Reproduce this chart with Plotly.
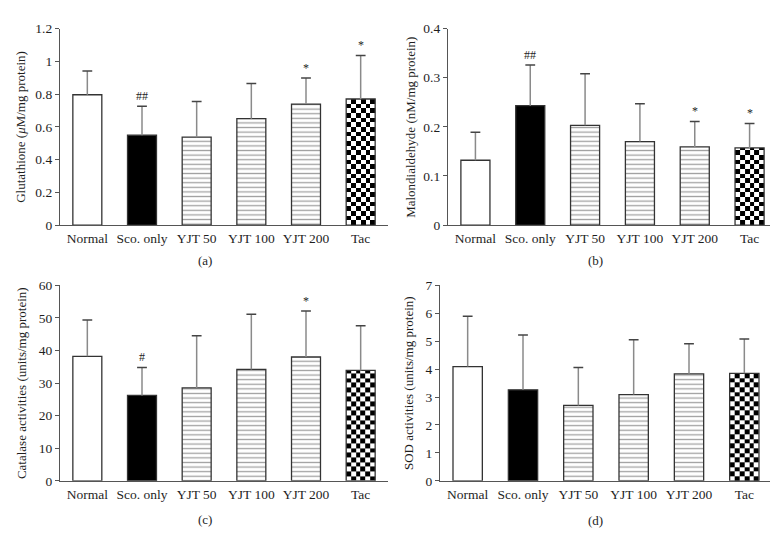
import numpy as np
import plotly.graph_objects as go

# ---------------- data ----------------
groups = ["Normal", "Sco. only", "YJT 50", "YJT 100", "YJT 200", "Tac"]

gsh_mean = [0.796, 0.549, 0.537, 0.650, 0.739, 0.770]
gsh_sd = [0.145, 0.176, 0.217, 0.215, 0.160, 0.266]
gsh_sig = ["", "##", "", "", "*", "*"]

mda_mean = [0.132, 0.243, 0.203, 0.170, 0.159, 0.157]
mda_sd = [0.057, 0.083, 0.105, 0.077, 0.052, 0.050]
mda_sig = ["", "##", "", "", "*", "*"]

cat_mean = [38.2, 26.2, 28.5, 34.2, 38.0, 33.9]
cat_sd = [11.2, 8.6, 16.0, 16.9, 14.1, 13.7]
cat_sig = ["", "#", "", "", "*", ""]

sod_mean = [4.09, 3.26, 2.70, 3.09, 3.83, 3.85]
sod_sd = [1.80, 1.96, 1.36, 1.96, 1.08, 1.23]
sod_sig = ["", "", "", "", "", ""]

y_titles = [
    "Glutathione (<i>μ</i>M/mg protein)",
    "Malondialdehyde (nM/mg protein)",
    "Catalase activities (units/mg protein)",
    "SOD activities (units/mg protein)",
]
captions = ["(a)", "(b)", "(c)", "(d)"]
y_max = [1.2, 0.4, 60, 7]
y_dtick = [0.2, 0.1, 10, 1]

# ---------------- styling ----------------
W, H = 778, 545
FONT = "Liberation Serif, Times New Roman, serif"
TXT = "#1e1e1e"
fills = ["white", "black", "white", "white", "white", "rgba(0,0,0,0)"]
shapes = ["", "", "-", "-", "-", ""]
bargap = 0.47
barw = 1 - bargap

# pixel boxes of each plot area: (x_left, x_right, y_top, y_bottom)
boxes = [
    (52, 380, 14, 216),
    (440, 769, 14, 216),
    (52, 380, 278, 479),
    (432, 764, 278, 479),
]
caption_pos = [(197, 252), (587, 252), (197, 519), (587, 520)]
ytitle_x = [13, 403, 13, 400]

panels = [
    (gsh_mean, gsh_sd, gsh_sig),
    (mda_mean, mda_sd, mda_sig),
    (cat_mean, cat_sd, cat_sig),
    (sod_mean, sod_sd, sod_sig),
]

fig = go.Figure()
idx = list(range(len(groups)))
annotations = []
layout_axes = {}

for p, (mean, sd, sig) in enumerate(panels):
    n = "" if p == 0 else str(p + 1)
    xa, ya = "x" + n, "y" + n
    xl, xr, yt, yb = boxes[p]

    # checkerboard fill for the Tac bar (heatmap under the bar outline)
    tac = len(groups) - 1
    cell_px = 4.8
    rowh = y_max[p] * cell_px / (yb - yt)
    ye = np.append(np.arange(0, mean[tac], rowh), mean[tac])
    if ye[-1] - ye[-2] < rowh * 0.2:
        ye = np.delete(ye, -2)
    ncol = 6
    xe = tac - barw / 2 + np.arange(ncol + 1) * barw / ncol
    z = [[(i + j) % 2 for j in range(ncol)] for i in range(len(ye) - 1)]
    fig.add_trace(go.Heatmap(
        x=xe, y=ye, z=z, zmin=0, zmax=1,
        colorscale=[[0, "white"], [1, "black"]],
        showscale=False, hoverinfo="skip", xaxis=xa, yaxis=ya,
    ))

    fig.add_trace(go.Bar(
        x=idx, y=mean, xaxis=xa, yaxis=ya,
        marker=dict(
            color=fills,
            line=dict(color="#333333", width=1.3),
            pattern=dict(shape=shapes, fgcolor="#8a8a8a", bgcolor="white",
                         size=4.6, solidity=0.28),
        ),
        error_y=dict(type="data", symmetric=False, array=sd,
                     arrayminus=[0] * len(sd), width=0,
                     thickness=1.5, color="#8a8a8a"),
        hoverinfo="skip",
    ))
    tops = [m + s for m, s in zip(mean, sd)]
    fig.add_trace(go.Scatter(
        x=idx, y=tops, mode="markers", xaxis=xa, yaxis=ya,
        marker=dict(symbol="line-ew", size=7,
                    line=dict(width=1.5, color="#444444")),
        hoverinfo="skip",
    ))

    for i, s in enumerate(sig):
        if s:
            annotations.append(dict(
                x=i, y=tops[i], xref=xa, yref=ya, text=s, showarrow=False,
                yanchor="bottom", yshift=1,
                font=dict(family=FONT, size=12, color=TXT),
            ))

    cx, cy = caption_pos[p]
    annotations.append(dict(
        x=cx / W, y=1 - cy / H, xref="paper", yref="paper",
        text=captions[p], showarrow=False, xanchor="center", yanchor="middle",
        font=dict(family=FONT, size=13, color=TXT),
    ))
    annotations.append(dict(
        x=ytitle_x[p] / W, y=1 - (yt + yb) / 2 / H, xref="paper", yref="paper",
        text=y_titles[p], showarrow=False, textangle=-90,
        xanchor="center", yanchor="middle",
        font=dict(family=FONT, size=13, color=TXT),
    ))

    layout_axes["xaxis" + n] = dict(
        domain=[xl / W, xr / W], anchor=ya, range=[-0.5, 5.5],
        tickmode="array", tickvals=idx, ticktext=groups,
        showline=True, linecolor="#555555", linewidth=1.2, ticks="",
        ticklabelstandoff=1,
        showgrid=False, zeroline=False, fixedrange=True,
        tickfont=dict(family=FONT, size=13.5, color=TXT),
    )
    layout_axes["yaxis" + n] = dict(
        domain=[1 - yb / H, 1 - yt / H], anchor=xa, range=[0, y_max[p]],
        dtick=y_dtick[p], tick0=0,
        showline=True, linecolor="#555555", linewidth=1.2,
        ticks="outside", ticklen=4, tickcolor="#555555", tickwidth=1.2,
        showgrid=False, zeroline=False, fixedrange=True,
        tickfont=dict(family=FONT, size=13.5, color=TXT),
    )

fig.update_layout(
    width=W, height=H,
    margin=dict(l=0, r=0, t=0, b=0),
    paper_bgcolor="white", plot_bgcolor="white",
    showlegend=False, bargap=bargap,
    annotations=annotations,
    **layout_axes,
)

fig.write_html("out.html")
